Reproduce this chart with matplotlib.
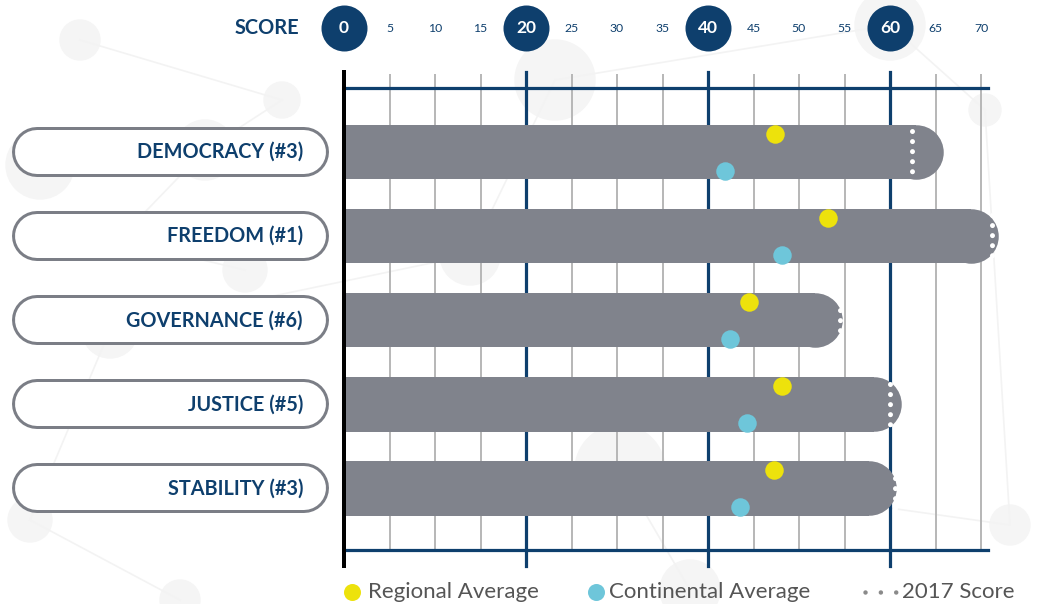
import matplotlib
matplotlib.use('Agg')
import matplotlib.pyplot as plt
from matplotlib.patches import Circle

# ── Data ─────────────────────────────────────────────────────────────
categories = ['DEMOCRACY (#3)', 'FREEDOM (#1)', 'GOVERNANCE (#6)',
              'JUSTICE (#5)', 'STABILITY (#3)']
scores      = [65.9, 71.9, 54.7, 61.2, 60.7]
score_2017  = [62.4, 71.2, 54.5, 60.0, 60.5]
regional    = [47.4, 53.2, 44.5, 48.1, 47.3]
continental = [41.9, 48.1, 42.4, 44.3, 43.5]
ticks       = [0, 5, 10, 15, 20, 25, 30, 35, 40, 45, 50, 55, 60, 65, 70]
major_ticks = [0, 20, 40, 60]

# ── Style ────────────────────────────────────────────────────────────
NAVY = '#0e3f6d'
BAR = '#80838c'
YELLOW = '#ede20c'
CYAN = '#6ec6da'
GRID = '#b8b8b8'
TEXT = '#555555'
FONT = 'Lato'

W, H = 1038, 604
X_PX = 9.1      # pixels per score unit
Y_PX = 84.1     # pixels per row
X0, ROW0 = 344, 152

def yrow(p):    # pixel row -> y units (for layout only)
    return (p - ROW0) / Y_PX

def pt(px):     # pixels -> points
    return px * 72 / 100

fig = plt.figure(figsize=(W / 100, H / 100), dpi=100)
fig.patch.set_facecolor('white')

# faint background network (decoration)
bg = fig.add_axes([0, 0, 1, 1])
bg.set_xlim(0, W)
bg.set_ylim(H, 0)
bg.axis('off')
nodes = [(80, 40, 20), (282, 100, 18), (40, 165, 34), (205, 150, 30),
         (118, 240, 14), (245, 270, 22), (555, 80, 40), (890, 25, 35),
         (985, 110, 16), (1010, 525, 20), (690, 590, 30), (110, 330, 28),
         (470, 255, 30), (620, 470, 45), (30, 520, 22), (180, 600, 20)]
for (x, y, r) in nodes:
    bg.add_patch(Circle((x, y), r, color='#f5f5f5', zorder=0))
edges = [(0, 1), (1, 3), (2, 3), (3, 4), (4, 5), (6, 7), (7, 8), (8, 9),
         (10, 13), (11, 12), (12, 6), (13, 9), (14, 15), (11, 14)]
for a, b in edges:
    bg.plot([nodes[a][0], nodes[b][0]], [nodes[a][1], nodes[b][1]],
            color='#f3f3f3', lw=1.2, zorder=0)

ax = fig.add_axes([0, 0, 1, 1])
ax.patch.set_alpha(0)
ax.set_xlim(-X0 / X_PX, (W - X0) / X_PX)
ax.set_ylim((H - ROW0) / Y_PX, -ROW0 / Y_PX)
ax.axis('off')

# ── Grid ─────────────────────────────────────────────────────────────
for t in ticks:
    if t in major_ticks:
        continue
    ax.plot([t, t], [yrow(75), yrow(548)], color=GRID, lw=pt(2), zorder=1)
for t in major_ticks[1:]:
    ax.plot([t, t], [yrow(72), yrow(566)], color=NAVY, lw=pt(3.2), zorder=2)
for yy in [yrow(88), yrow(550)]:
    ax.plot([0, 70.8], [yy, yy], color=NAVY, lw=pt(3.2), zorder=2)

# ── Bars ─────────────────────────────────────────────────────────────
bar_h = 54.5 / Y_PX
cap = 27.25 / X_PX
rows = list(range(len(categories)))
ax.barh(rows, [s - cap for s in scores], height=bar_h, left=0,
        color=BAR, zorder=3)
ax.scatter([s - cap for s in scores], rows, s=pt(54.5) ** 2,
           color=BAR, linewidths=0, zorder=3)

# 2017 score dotted markers
for i, s in enumerate(score_2017):
    ax.plot([s, s], [i - 0.245, i + 0.245], color='white', lw=pt(5),
            linestyle=(0, (0.01, 2.0)), dash_capstyle='round', zorder=4)

ax.plot([0, 0], [yrow(72), yrow(566)], color='black', lw=pt(4), zorder=5)

# averages
off = 18.5 / Y_PX
ax.scatter(regional, [i - off for i in rows], s=pt(18.5) ** 2,
           color=YELLOW, linewidths=0, zorder=6)
ax.scatter(continental, [i + off for i in rows], s=pt(18.5) ** 2,
           color=CYAN, linewidths=0, zorder=6)

# ── Category pills ───────────────────────────────────────────────────
px_l, px_r = (12 - X0) / X_PX, (329 - X0) / X_PX
pill_r = 25 / X_PX
for i, name in enumerate(categories):
    ax.plot([px_l + pill_r, px_r - pill_r], [i, i], color='#7b7e86',
            lw=pt(50), solid_capstyle='round', zorder=3)
    ax.plot([px_l + pill_r, px_r - pill_r], [i, i], color='white',
            lw=pt(44), solid_capstyle='round', zorder=4)
    ax.text((303 - X0) / X_PX, i, name, ha='right', va='center',
            color=NAVY, fontsize=14.3, fontweight='bold', family=FONT,
            zorder=5)

# ── Top score scale ──────────────────────────────────────────────────
ty = yrow(28)
ax.scatter(major_ticks, [ty] * len(major_ticks), s=pt(46) ** 2,
           color=NAVY, linewidths=0, zorder=3)
for t in ticks:
    if t in major_ticks:
        ax.text(t, ty, str(t), ha='center', va='center', color='white',
                fontsize=12.5, fontweight='bold', family=FONT, zorder=4)
    else:
        ax.text(t, ty, str(t), ha='center', va='center', color=NAVY,
                fontsize=8.8, family=FONT, zorder=4)
ax.text((299 - X0) / X_PX, ty, 'SCORE', ha='right', va='center',
        color=NAVY, fontsize=14.4, fontweight='bold', family=FONT)

# ── Legend ───────────────────────────────────────────────────────────
ly = yrow(592)
ax.scatter([(352 - X0) / X_PX], [ly], s=pt(17) ** 2, color=YELLOW,
           linewidths=0, clip_on=False)
ax.text((368 - X0) / X_PX, ly, 'Regional Average', ha='left',
        va='center', color=TEXT, fontsize=16, family=FONT)
ax.scatter([(596 - X0) / X_PX], [ly], s=pt(17) ** 2, color=CYAN,
           linewidths=0, clip_on=False)
ax.text((609 - X0) / X_PX, ly, 'Continental Average', ha='left',
        va='center', color=TEXT, fontsize=16, family=FONT)
ax.plot([(865 - X0) / X_PX, (897 - X0) / X_PX], [ly, ly], color='#8a8a8a',
        lw=pt(4.5), linestyle=(0, (0.01, 3.4)), dash_capstyle='round')
ax.text((902 - X0) / X_PX, ly, '2017 Score', ha='left', va='center',
        color=TEXT, fontsize=16, family=FONT)

fig.savefig('out.png', dpi=100)
